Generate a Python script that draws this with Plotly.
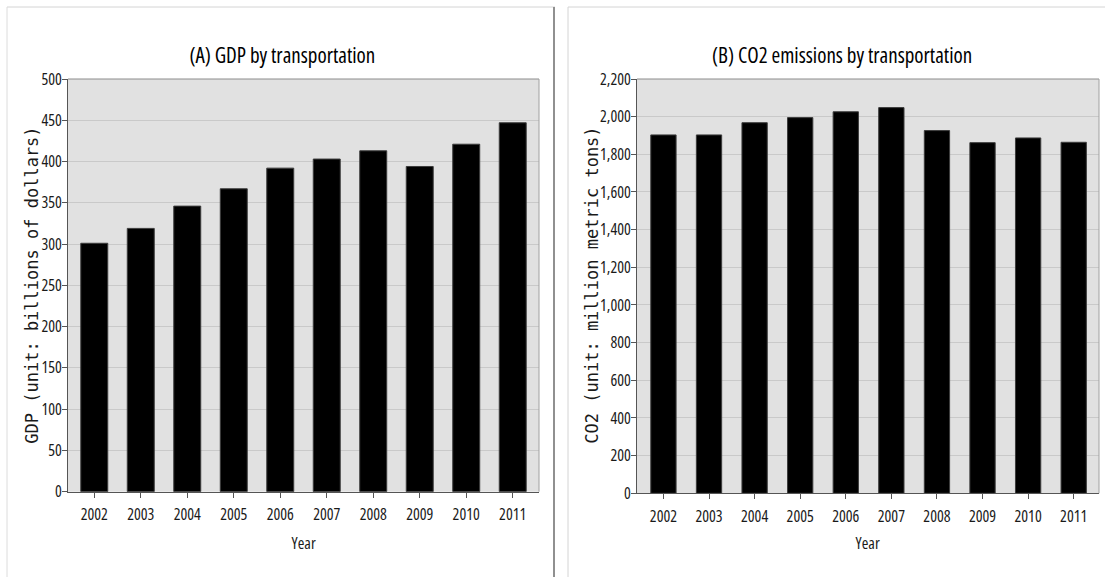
import plotly.graph_objects as go

# ---- data ----
years = ["2002", "2003", "2004", "2005", "2006", "2007", "2008", "2009", "2010", "2011"]
gdp = [301, 319, 346, 367, 392, 403, 413, 394, 421, 447]
co2 = [1903, 1903, 1968, 1995, 2026, 2048, 1926, 1862, 1887, 1864]
gdp_ticks = [0, 50, 100, 150, 200, 250, 300, 350, 400, 450, 500]
co2_ticks = [0, 200, 400, 600, 800, 1000, 1200, 1400, 1600, 1800, 2000, 2200]

title_a = "(A) GDP by transportation"
title_b = "(B) CO2 emissions by transportation"
ytitle_a = "GDP (unit: billions of dollars)"
ytitle_b = "CO2 (unit: million metric tons)"
xtitle = "Year"

# ---- layout helpers (pixel -> paper) ----
W, H = 1105, 577


def fx(p):
    return p / W


def fy(p):
    return 1 - p / H


NARROW = "Open Sans"          # rendered condensed (font-stretch 75%) below
WIDE = "DejaVu Sans Mono, monospace"
AXC = "#555555"

fig = go.Figure()
bar_style = dict(color="black", line=dict(color="#3c3c3c", width=1))
fig.add_trace(go.Bar(x=years, y=gdp, xaxis="x", yaxis="y", marker=bar_style,
                     width=0.58, showlegend=False, hoverinfo="x+y"))
fig.add_trace(go.Bar(x=years, y=co2, xaxis="x2", yaxis="y2", marker=bar_style,
                     width=0.555, showlegend=False, hoverinfo="x+y"))

common_x = dict(type="category", showline=True, linecolor=AXC, linewidth=1,
                ticks="outside", ticklen=5, tickcolor=AXC, showgrid=False,
                automargin=False, ticklabelstandoff=3,
                tickfont=dict(family=NARROW, size=16, color="#1a1a1a"),
                fixedrange=True)
common_y = dict(showline=True, linecolor=AXC, linewidth=1, ticks="outside",
                ticklen=5, tickcolor=AXC, showgrid=True, gridcolor="#c9c9c9",
                gridwidth=1, zeroline=False, ticklabelstandoff=-3, automargin=False,
                tickfont=dict(family=NARROW, size=16, color="#1a1a1a"),
                fixedrange=True)

fig.update_layout(
    width=W, height=H,
    margin=dict(l=0, r=0, t=0, b=0, pad=0, autoexpand=False),
    paper_bgcolor="white",
    plot_bgcolor="#e1e1e1",
    font=dict(family=NARROW),
    xaxis=dict(domain=[fx(68), fx(539)], anchor="y", range=[-0.565, 9.565], **common_x),
    yaxis=dict(domain=[fy(491.7), fy(79)], anchor="x", range=[0, 500],
               tickvals=gdp_ticks, **common_y),
    xaxis2=dict(domain=[fx(637), fx(1099)], anchor="y2", range=[-0.58, 9.555], **common_x),
    yaxis2=dict(domain=[fy(493.3), fy(79)], anchor="x2", range=[0, 2200],
                tickvals=co2_ticks, tickformat=",", **common_y),
)

ann = []
for txt, xc in ((title_a, 282), (title_b, 842)):
    ann.append(dict(text=txt, x=fx(xc), y=fy(55), xref="paper", yref="paper",
                    showarrow=False, xanchor="center", yanchor="middle",
                    font=dict(family=NARROW, size=21, color="black")))
for txt, xc in ((ytitle_a, 31.7), (ytitle_b, 591.7)):
    ann.append(dict(text=txt, x=fx(xc), y=fy(285), xref="paper", yref="paper",
                    showarrow=False, xanchor="center", yanchor="middle", textangle=-90,
                    font=dict(family=WIDE, size=17, color="#1a1a1a")))
for xc in (303.5, 868):
    ann.append(dict(text=xtitle, x=fx(xc), y=fy(543), xref="paper", yref="paper",
                    showarrow=False, xanchor="center", yanchor="middle",
                    font=dict(family=NARROW, size=16, color="#1a1a1a")))
fig.update_layout(annotations=ann)

shapes = []
# plot-area top / right borders (lighter than axis lines)
for xr, yr in (("x", "y"), ("x2", "y2")):
    shapes.append(dict(type="line", xref=f"{xr} domain", yref=f"{yr} domain",
                       x0=0, x1=1, y0=1, y1=1, line=dict(color="#8c8c8c", width=1)))
    shapes.append(dict(type="line", xref=f"{xr} domain", yref=f"{yr} domain",
                       x0=1, x1=1, y0=0, y1=1, line=dict(color="#a0a0a0", width=1)))
# panel frames
shapes.append(dict(type="line", xref="paper", yref="paper", x0=fx(7), x1=fx(555),
                   y0=fy(7), y1=fy(7), line=dict(color="#d4d4d4", width=1)))
shapes.append(dict(type="line", xref="paper", yref="paper", x0=fx(7), x1=fx(7),
                   y0=fy(7), y1=0, line=dict(color="#dcdcdc", width=1)))
shapes.append(dict(type="line", xref="paper", yref="paper", x0=fx(554), x1=fx(554),
                   y0=fy(7), y1=0, line=dict(color="#909090", width=2)))
shapes.append(dict(type="line", xref="paper", yref="paper", x0=fx(568), x1=1,
                   y0=fy(7), y1=fy(7), line=dict(color="#d4d4d4", width=1)))
shapes.append(dict(type="line", xref="paper", yref="paper", x0=fx(568), x1=fx(568),
                   y0=fy(7), y1=0, line=dict(color="#d4d4d4", width=1)))
fig.update_layout(shapes=shapes)

post = """
document.body.style.margin = '0';
var gd = document.getElementById('{plot_id}');
function condense() {
  gd.querySelectorAll('text').forEach(function (t) {
    var ff = t.style.fontFamily || '';
    if (ff.indexOf('Open Sans') >= 0) { t.style.fontStretch = '75%'; }
  });
}
condense();
gd.on('plotly_afterplot', condense);
"""
fig.write_html("out.html", post_script=post, config=dict(displayModeBar=False))
